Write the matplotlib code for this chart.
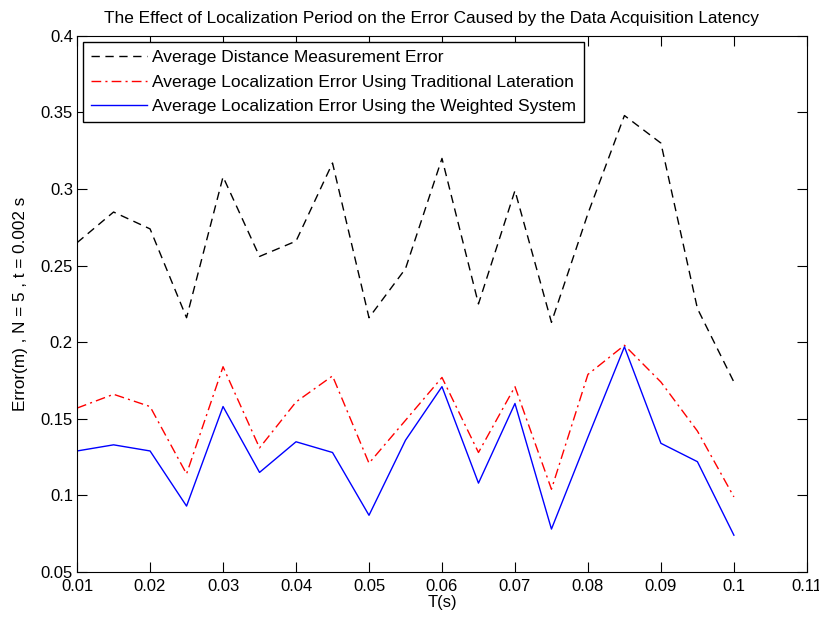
import numpy as np
import matplotlib
matplotlib.use("Agg")
import matplotlib.pyplot as plt
from matplotlib.ticker import FuncFormatter

plt.rcParams['font.family'] = ['Liberation Sans', 'DejaVu Sans']

# localization period T(s)
T = [0.01, 0.015, 0.02, 0.025, 0.03, 0.035, 0.04, 0.045, 0.05, 0.055,
     0.06, 0.065, 0.07, 0.075, 0.08, 0.085, 0.09, 0.095, 0.1]

dist_err = [0.265, 0.285, 0.274, 0.216, 0.308, 0.256, 0.266, 0.317, 0.216, 0.248,
            0.320, 0.225, 0.299, 0.213, 0.284, 0.348, 0.330, 0.222, 0.174]

lat_err = [0.157, 0.166, 0.158, 0.114, 0.184, 0.131, 0.161, 0.178, 0.121, 0.149,
           0.177, 0.128, 0.171, 0.104, 0.179, 0.198, 0.174, 0.142, 0.099]

weighted_err = [0.129, 0.133, 0.129, 0.093, 0.158, 0.115, 0.135, 0.128, 0.087, 0.136,
                0.171, 0.108, 0.160, 0.078, 0.138, 0.197, 0.134, 0.122, 0.074]

labels = ['Average Distance Measurement Error',
          'Average Localization Error Using Traditional Lateration',
          'Average Localization Error Using the Weighted System']

fig = plt.figure(figsize=(8.2, 6.19), dpi=100)
ax = fig.add_axes([0.094, 0.076, 0.890, 0.866])

ax.plot(T, dist_err, color='black', linestyle=(0, (6, 4)), linewidth=1.0, label=labels[0])
ax.plot(T, lat_err, color='red', linestyle=(0, (7, 3, 1.5, 3)), linewidth=1.0, label=labels[1])
ax.plot(T, weighted_err, color='blue', linestyle='-', linewidth=1.0, label=labels[2])

ax.set_xlim(0.01, 0.11)
ax.set_ylim(0.05, 0.4)
ax.set_xticks(np.arange(0.01, 0.1101, 0.01))
ax.set_yticks(np.arange(0.05, 0.4001, 0.05))
fmt = FuncFormatter(lambda v, p: '%g' % round(v, 3))
ax.xaxis.set_major_formatter(fmt)
ax.yaxis.set_major_formatter(fmt)
ax.tick_params(direction='in', top=True, right=True, labelsize=12, length=7, pad=3)
ax.tick_params(axis='x', pad=5)

ax.set_xlabel('T(s)', fontsize=12, labelpad=1)
ax.set_ylabel('Error(m) , N = 5 , t = 0.002 s', fontsize=12.3, labelpad=9)
ax.set_title('The Effect of Localization Period on the Error Caused by the Data Acquisition Latency',
             fontsize=12.4, pad=9, x=0.485)

leg = ax.legend(loc='upper left', fontsize=12.5, handlelength=3.2, borderaxespad=0.35,
                fancybox=False, framealpha=1, edgecolor='black', labelspacing=0.55,
                handletextpad=0.3, borderpad=0.45)
leg.get_frame().set_linewidth(1.0)

fig.savefig('out.png', dpi=100)
